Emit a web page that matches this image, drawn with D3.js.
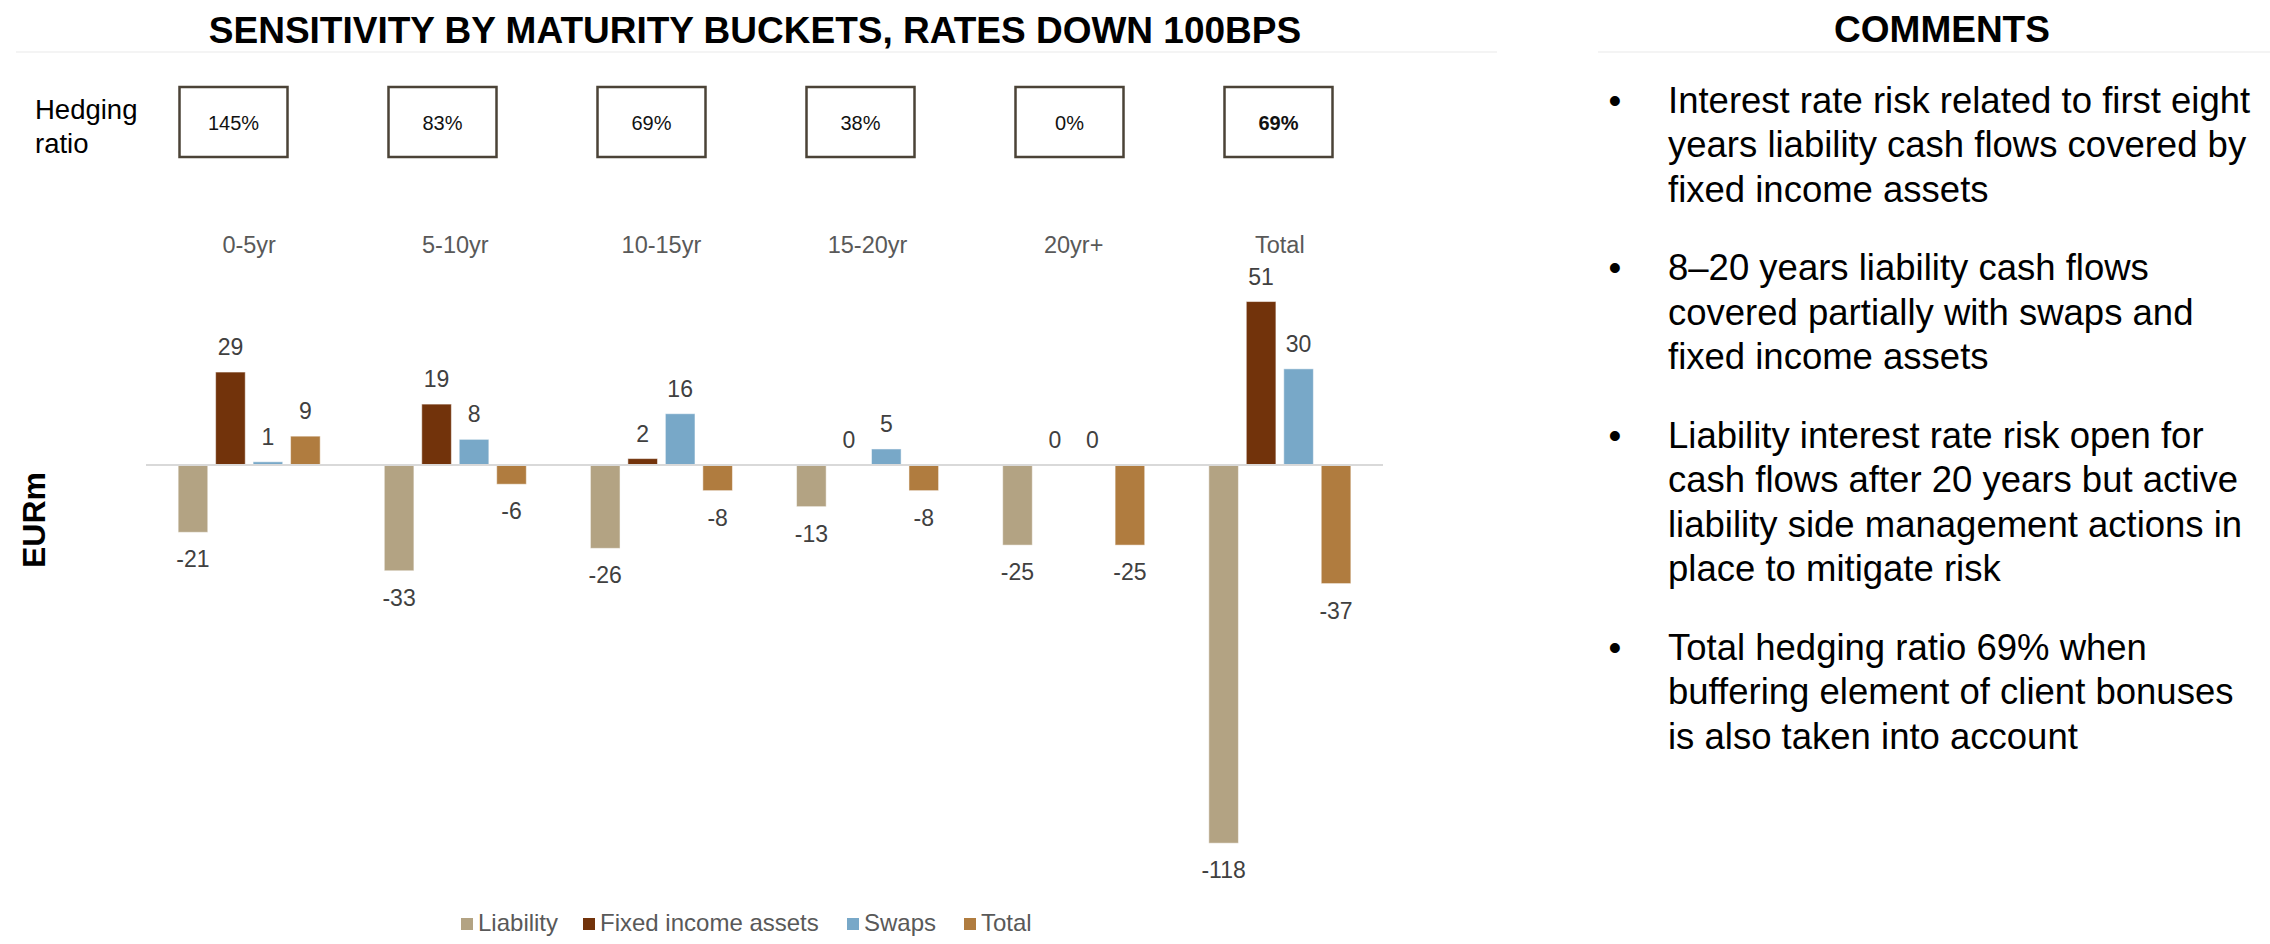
<!DOCTYPE html>
<html>
<head>
<meta charset="utf-8">
<script src="https://cdn.jsdelivr.net/npm/d3@7"></script>
<style>
    body { margin: 0; background: #fff; }
    svg { display: block; }
</style>
</head>
<body>
<div id="chart"></div>
<script>
// Data
const categories = ["0-5yr", "5-10yr", "10-15yr", "15-20yr", "20yr+", "Total"];
const seriesNames = ["Liability", "Fixed income assets", "Swaps", "Total"];
const liability = [-21, -33, -26, -13, -25, -118];
const fixedIncome = [29, 19, 2, 0, 0, 51];
const swaps = [1, 8, 16, 5, 0, 30];
const netTotal = [9, -6, -8, -8, -25, -37];
const hedgingRatios = ["145%", "83%", "69%", "38%", "0%", "69%"];
const seriesColors = ["#b3a383", "#72330b", "#78a8c8", "#b07c3f"];

const chartTitle = "SENSITIVITY BY MATURITY BUCKETS, RATES DOWN 100BPS";
const commentsTitle = "COMMENTS";
const comments = [
    ["Interest rate risk related to first eight", "years liability cash flows covered by", "fixed income assets"],
    ["8\u201320 years liability cash flows", "covered partially with swaps and", "fixed income assets"],
    ["Liability interest rate risk open for", "cash flows after 20 years but active", "liability side management actions in", "place to mitigate risk"],
    ["Total hedging ratio 69% when", "buffering element of client bonuses", "is also taken into account"]
];

const W = 2270, H = 944;
const font = "'Liberation Sans', Arial, sans-serif";

const svg = d3.select("#chart")
    .append("svg")
    .attr("width", W)
    .attr("height", H)
    .style("font-family", font);

// Titles and separator lines
svg.append("text")
    .attr("x", 755)
    .attr("y", 43)
    .attr("text-anchor", "middle")
    .style("font-size", "37px")
    .style("font-weight", "bold")
    .attr("fill", "#000")
    .text(chartTitle);

svg.append("line")
    .attr("x1", 16).attr("x2", 1497)
    .attr("y1", 52).attr("y2", 52)
    .attr("stroke", "#f0f0f0").attr("stroke-width", 1.5);

svg.append("text")
    .attr("x", 1942)
    .attr("y", 42)
    .attr("text-anchor", "middle")
    .style("font-size", "37px")
    .style("font-weight", "bold")
    .attr("fill", "#000")
    .text(commentsTitle);

svg.append("line")
    .attr("x1", 1598).attr("x2", 2270)
    .attr("y1", 52).attr("y2", 52)
    .attr("stroke", "#f0f0f0").attr("stroke-width", 1.5);

// Scales
const x0 = d3.scaleBand()
    .domain(categories)
    .range([146, 1383])
    .paddingInner(0.311)
    .paddingOuter(0.156);

const x1 = d3.scaleBand()
    .domain(seriesNames)
    .range([0, x0.bandwidth()])
    .paddingInner(0.21)
    .paddingOuter(0);

const y = d3.scaleLinear()
    .domain([-120, 60])
    .range([465 + 120 * 3.205, 465 - 60 * 3.205]);

const color = d3.scaleOrdinal().domain(seriesNames).range(seriesColors);

// Hedging ratio row
const boxX = d3.scalePoint()
    .domain(categories)
    .range([233.5, 1278.5]);

const hedgeLabel = svg.append("text")
    .style("font-size", "27.5px")
    .attr("fill", "#000");
hedgeLabel.append("tspan").attr("x", 35).attr("y", 119).text("Hedging");
hedgeLabel.append("tspan").attr("x", 35).attr("y", 153).text("ratio");

const boxes = svg.append("g").selectAll("g")
    .data(categories)
    .join("g")
    .attr("transform", d => "translate(" + boxX(d) + ",0)");

boxes.append("rect")
    .attr("x", -54)
    .attr("y", 87)
    .attr("width", 108)
    .attr("height", 70)
    .attr("fill", "#fff")
    .attr("stroke", "#4b4337")
    .attr("stroke-width", 2.5);

boxes.append("text")
    .attr("y", 130)
    .attr("text-anchor", "middle")
    .style("font-size", "20px")
    .style("font-weight", (d, i) => i == categories.length - 1 ? "bold" : "normal")
    .attr("fill", "#111")
    .text((d, i) => hedgingRatios[i]);

// Category labels
svg.append("g").selectAll("text")
    .data(categories)
    .join("text")
    .attr("x", d => x0(d) + x0.bandwidth() / 2)
    .attr("y", 253)
    .attr("text-anchor", "middle")
    .style("font-size", "23.5px")
    .attr("fill", "#595959")
    .text(d => d);

// Bars
const seriesValues = [liability, fixedIncome, swaps, netTotal];
const barData = [];
categories.forEach((cat, ci) => {
    seriesNames.forEach((s, si) => {
        barData.push({ cat: cat, series: s, value: seriesValues[si][ci] });
    });
});

const groups = svg.append("g");

groups.selectAll("rect")
    .data(barData)
    .join("rect")
    .attr("x", d => x0(d.cat) + x1(d.series))
    .attr("y", d => y(Math.max(0, d.value)))
    .attr("width", x1.bandwidth())
    .attr("height", d => Math.abs(y(d.value) - y(0)))
    .attr("fill", d => color(d.series))
    .attr("stroke", "#ffffff")
    .attr("stroke-opacity", 0.5)
    .attr("stroke-width", 1);

// Zero line
svg.append("line")
    .attr("x1", x0.range()[0])
    .attr("x2", x0.range()[1])
    .attr("y1", y(0))
    .attr("y2", y(0))
    .attr("stroke", "#d9d9d9")
    .attr("stroke-width", 2);

// Value labels
groups.selectAll("text")
    .data(barData)
    .join("text")
    .attr("x", d => x0(d.cat) + x1(d.series) + x1.bandwidth() / 2)
    .attr("y", d => d.value >= 0 ? y(d.value) - 17 : y(d.value) + 35)
    .attr("text-anchor", "middle")
    .style("font-size", "23px")
    .attr("fill", "#404040")
    .text(d => d.value);

// Y axis label
svg.append("text")
    .attr("transform", "translate(45,520) rotate(-90)")
    .attr("text-anchor", "middle")
    .style("font-size", "32px")
    .style("font-weight", "bold")
    .attr("fill", "#000")
    .text("EURm");

// Legend
const legendX = [461, 583, 847, 964];
const legend = svg.append("g").selectAll("g")
    .data(seriesNames)
    .join("g")
    .attr("transform", (d, i) => "translate(" + legendX[i] + ",0)");

legend.append("rect")
    .attr("x", 0)
    .attr("y", 918)
    .attr("width", 12)
    .attr("height", 12)
    .attr("fill", d => color(d));

legend.append("text")
    .attr("x", 17)
    .attr("y", 930.5)
    .style("font-size", "24px")
    .attr("fill", "#595959")
    .text(d => d);

// Comments
const lineHeight = 44.5;
const paraGap = 34;
let cy = 112.5;
const commentG = svg.append("g");
comments.forEach(para => {
    commentG.append("text")
        .attr("x", 1615)
        .attr("y", cy)
        .attr("text-anchor", "middle")
        .style("font-size", "36.5px")
        .attr("fill", "#000")
        .text("\u2022");
    para.forEach((line, li) => {
        commentG.append("text")
            .attr("x", 1668)
            .attr("y", cy + li * lineHeight)
            .style("font-size", "36.5px")
            .attr("fill", "#000")
            .text(line);
    });
    cy += para.length * lineHeight + paraGap;
});
</script>
</body>
</html>
